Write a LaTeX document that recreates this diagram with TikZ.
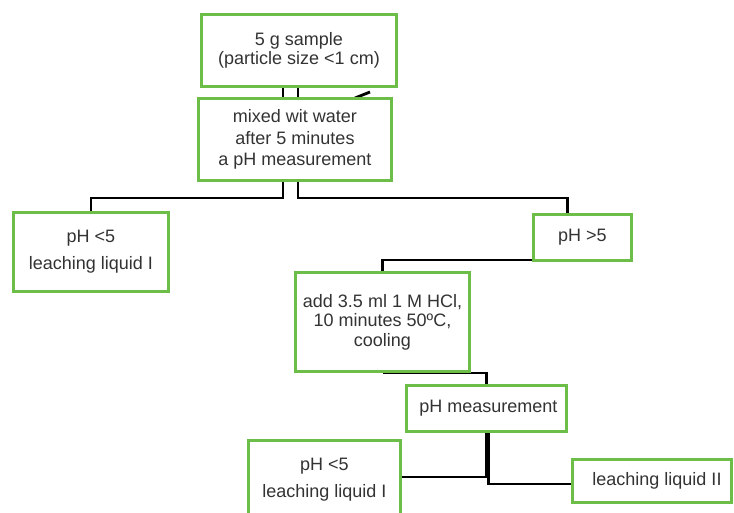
\documentclass[tikz,border=0pt]{standalone}
\usepackage{fontspec}
\setmainfont{Liberation Sans}
\usetikzlibrary{calc,backgrounds}
\definecolor{boxgreen}{RGB}{108,190,72}
\definecolor{txtgray}{RGB}{51,51,51}
\begin{document}
\begin{tikzpicture}[x=1pt,y=-1pt,
  box/.style={draw=boxgreen,line width=3pt,fill=white,inner sep=0pt,
    align=center,text=txtgray,font=\fontsize{18}{20}\selectfont},
  conn/.style={draw=black,line width=2.8pt}]
\useasboundingbox (0,0) rectangle (734,513);
\clip (0,0) rectangle (734,513);
% nodes
\node[box,minimum width=195pt,minimum height=72pt,font=\fontsize{18}{19}\selectfont] (b1) at (299,50.5) {5 g sample\\(particle size <1 cm)};
\node[box,minimum width=193pt,minimum height=82pt,font=\fontsize{18}{21.5}\selectfont] (b2) at (295,139.5) {mixed wit water\\after 5 minutes\\a pH measurement};
\node[box,minimum width=155pt,minimum height=79pt,font=\fontsize{18}{27}\selectfont] (pL1) at (91,252) {pH <5\\leaching liquid I};
\node[box,minimum width=98pt,minimum height=46pt] (pG) at (582.5,237.5) {pH >5};
\node[box,minimum width=174pt,minimum height=99pt,font=\fontsize{18}{19.5}\selectfont] (add) at (382.5,322) {add 3.5 ml 1 M HCl,\\10 minutes 50ºC,\\cooling};
\node[box,minimum width=160pt,minimum height=46pt] (pHm) at (486.5,408.5) {\hspace*{4pt}pH measurement};
\node[box,minimum width=152pt,minimum height=79pt,font=\fontsize{18}{27}\selectfont] (pL2) at (324.5,480) {pH <5\\leaching liquid I};
\node[box,minimum width=159pt,minimum height=43pt] (liq2) at (652,481) {\hspace*{10pt}leaching liquid II};
% connectors (behind boxes)
\begin{scope}[on background layer]
\draw[conn] ([xshift=-16pt]b1.south) -- ++(0,110) -| (pL1.north);
\draw[conn] ([xshift=-1pt]b1.south) -- ++(0,110) -| ([xshift=-15pt]pG.north);
\draw[conn] ([xshift=60pt,yshift=-1pt]b2.north) -- ([xshift=71pt,yshift=-4pt]b1.south);
\draw[conn] ([yshift=2pt]pG.south west) -| (add.north);
\draw[conn] (add.south) -| (pHm.north);
\draw[conn] (pHm.south) |- ([yshift=3pt]pL2.east);
\draw[conn] ([xshift=2pt]pHm.south) |- ([yshift=-3pt]liq2.west);
\end{scope}
\end{tikzpicture}
\end{document}
